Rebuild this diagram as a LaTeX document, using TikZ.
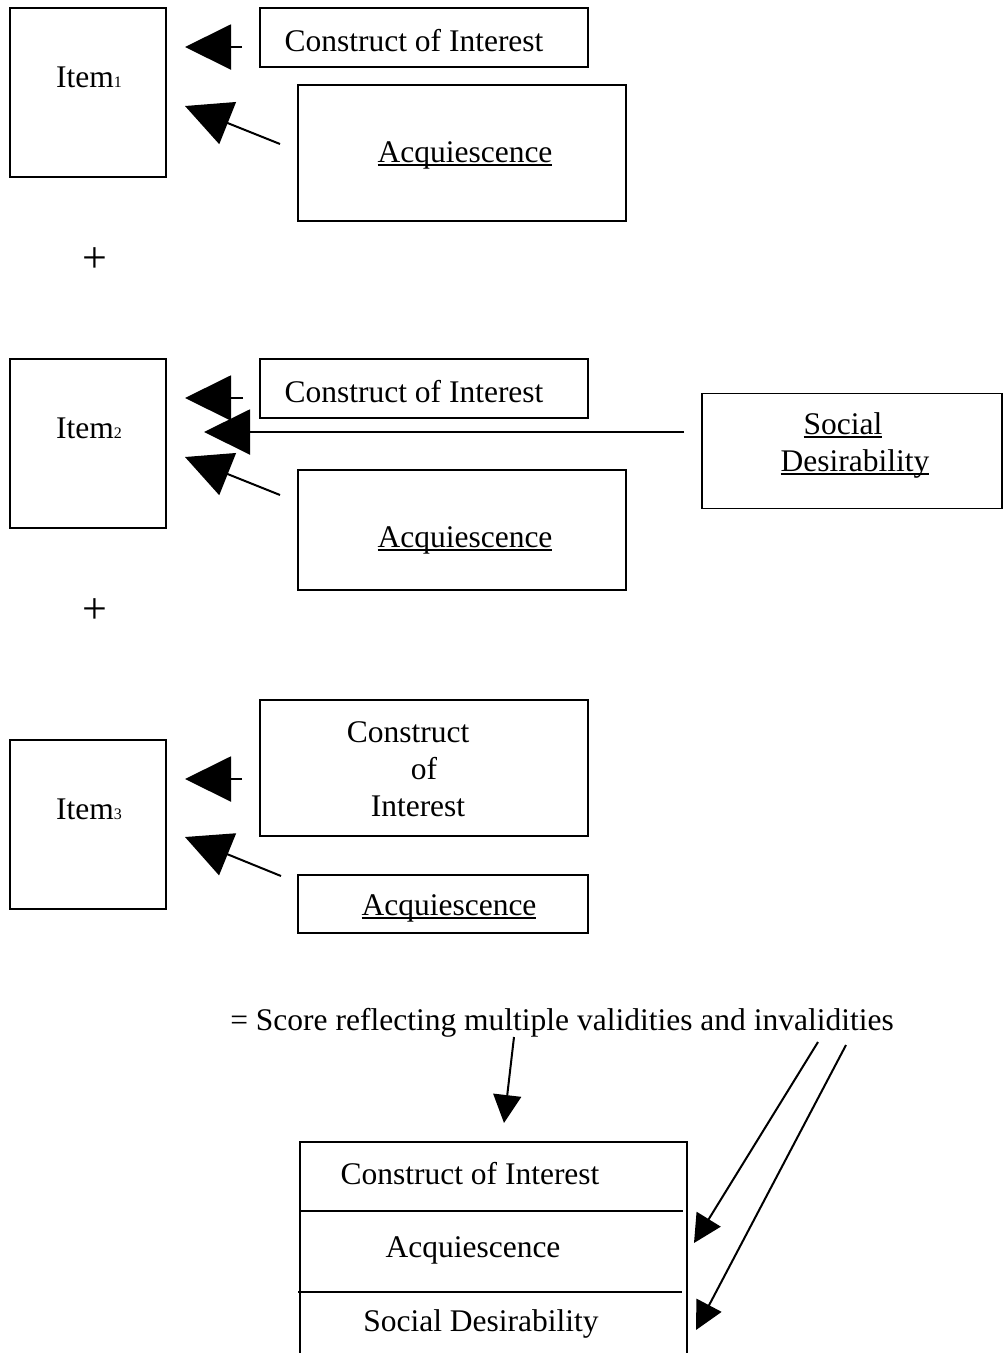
\documentclass[tikz,border=0pt]{standalone}
\usepackage{fontspec}
\setmainfont{Liberation Serif}
\usetikzlibrary{arrows.meta}
\newcommand{\ulword}[1]{\setbox0\hbox{#1}\rlap{\rule[-4pt]{\wd0}{1.6pt}}\box0}
\newcommand{\smallidx}[1]{{\fontsize{16}{16}\selectfont #1}}
\begin{document}
\begin{tikzpicture}[x=1pt,y=-1pt,
  box/.style={draw, line width=1.2pt, inner sep=0pt},
  lbl/.style={font=\fontsize{31.5}{37}\selectfont, inner sep=0pt, anchor=base},
  plussign/.style={font=\fontsize{44}{46}\selectfont, inner sep=0pt, anchor=center},
  bigarrow/.style={-{Triangle[length=46pt,width=45pt]}, line width=2pt},
  smallarrow/.style={-{Triangle[length=28pt,width=28pt]}, line width=2pt}]
\useasboundingbox (0,0) rectangle (1003,1353);
\fill[white] (0,0) rectangle (1003,1353);

% ---- Item 1 group ----
\node[box, minimum width=156pt, minimum height=169pt] (i1) at (88,92.5) {};
\node[lbl] (i1t) at (89,87) {Item\smallidx{1}};
\node[box, minimum width=328pt, minimum height=59pt] (c1) at (424,37.5) {};
\node[lbl] (c1t) at (414,51) {Construct of Interest};
\node[box, minimum width=328pt, minimum height=136pt] (q1) at (462,153) {};
\node[lbl] (q1t) at (465,162) {\ulword{Acquiescence}};
\coordinate (c1s) at (242,47);  \coordinate (c1e) at (185,47);
\coordinate (q1s) at (280,144); \coordinate (q1e) at (185,106);
\draw[bigarrow] (c1s) -- (c1e);
\draw[bigarrow] (q1s) -- (q1e);
\node[plussign] (p1) at (95,260.5) {+};

% ---- Item 2 group ----
\node[box, minimum width=156pt, minimum height=169pt] (i2) at (88,443.5) {};
\node[lbl] (i2t) at (89,438) {Item\smallidx{2}};
\node[box, minimum width=328pt, minimum height=59pt] (c2) at (424,388.5) {};
\node[lbl] (c2t) at (414,402) {Construct of Interest};
\node[box, minimum width=328pt, minimum height=120pt] (q2) at (462,530) {};
\node[lbl] (q2t) at (465,547) {\ulword{Acquiescence}};
\node[box, minimum width=300pt, minimum height=115pt] (sd) at (852,451) {};
\node[lbl] (sdt1) at (843,434) {\ulword{Social}};
\node[lbl] (sdt2) at (855,471) {\ulword{Desirability}};
\coordinate (c2s) at (243,398); \coordinate (c2e) at (185,398);
\coordinate (sds) at (684,432); \coordinate (sde) at (204,432);
\coordinate (q2s) at (280,495); \coordinate (q2e) at (185,457);
\draw[bigarrow] (c2s) -- (c2e);
\draw[bigarrow] (sds) -- (sde);
\draw[bigarrow] (q2s) -- (q2e);
\node[plussign] (p2) at (95,611.5) {+};

% ---- Item 3 group ----
\node[box, minimum width=156pt, minimum height=169pt] (i3) at (88,824.5) {};
\node[lbl] (i3t) at (89,819) {Item\smallidx{3}};
\node[box, minimum width=328pt, minimum height=136pt] (c3) at (424,768) {};
\node[lbl] (c3t1) at (408,742) {Construct};
\node[lbl] (c3t2) at (424,779) {of};
\node[lbl] (c3t3) at (418,816) {Interest};
\node[box, minimum width=290pt, minimum height=58pt] (q3) at (443,904) {};
\node[lbl] (q3t) at (449,915) {\ulword{Acquiescence}};
\coordinate (c3s) at (242,779); \coordinate (c3e) at (185,779);
\coordinate (q3s) at (281,876); \coordinate (q3e) at (185,837);
\draw[bigarrow] (c3s) -- (c3e);
\draw[bigarrow] (q3s) -- (q3e);

% ---- Score ----
\node[lbl] (score) at (562,1030) {= Score reflecting multiple validities and invalidities};
\coordinate (s1) at (514,1037); \coordinate (s1e) at (504,1123);
\coordinate (s2) at (818,1042); \coordinate (s2e) at (694,1243);
\coordinate (s3) at (846,1045); \coordinate (s3e) at (696,1330);
\draw[smallarrow] (s1) -- (s1e);
\draw[smallarrow] (s2) -- (s2e);
\draw[smallarrow] (s3) -- (s3e);

% ---- bottom stacked box ----
\coordinate (bl) at (300,1142); \coordinate (br) at (687,1142);
\draw[line width=1.2pt] (300,1360) -- (bl) -- (br) -- (687,1360);
\draw[line width=1.6pt] (299,1211) -- (683,1211);
\draw[line width=1.6pt] (298,1292) -- (682,1292);
\node[lbl] (b1) at (470,1184) {Construct of Interest};
\node[lbl] (b2) at (473,1257) {Acquiescence};
\node[lbl] (b3) at (481,1331) {Social Desirability};
\end{tikzpicture}
\end{document}
